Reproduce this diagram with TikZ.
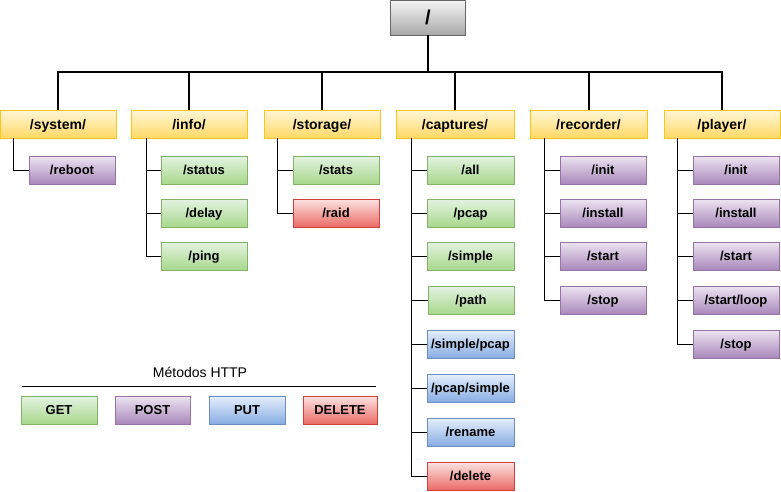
\documentclass[tikz,border=0pt]{standalone}
\usepackage{fontspec}
\setmainfont{Liberation Sans}
\usetikzlibrary{positioning}

\definecolor{rootTop}{HTML}{F5F5F5}
\definecolor{rootBot}{HTML}{A8A8A8}
\definecolor{rootLine}{HTML}{666666}
\definecolor{catTop}{HTML}{FFF6D8}
\definecolor{catBot}{HTML}{FFD966}
\definecolor{catLine}{HTML}{FFC61A}
\definecolor{getTop}{HTML}{E4F2E2}
\definecolor{getBot}{HTML}{A8D88C}
\definecolor{getLine}{HTML}{82B366}
\definecolor{postTop}{HTML}{EDE4F1}
\definecolor{postBot}{HTML}{A988BB}
\definecolor{postLine}{HTML}{9673A6}
\definecolor{putTop}{HTML}{E6EFFC}
\definecolor{putBot}{HTML}{87ACE2}
\definecolor{putLine}{HTML}{6C8EBF}
\definecolor{delTop}{HTML}{FBE3E2}
\definecolor{delBot}{HTML}{EA6B66}
\definecolor{delLine}{HTML}{D33F3A}

\tikzset{
  box/.style={draw, minimum height=28pt, inner sep=0pt, text depth=0pt,
    font=\bfseries\fontsize{13}{15}\selectfont},
  catbox/.style={box, minimum width=116pt, top color=catTop,
    bottom color=catBot, draw=catLine, font=\bfseries\fontsize{14}{16}\selectfont},
  getbox/.style={box, minimum width=86pt, top color=getTop,
    bottom color=getBot, draw=getLine},
  postbox/.style={box, minimum width=86pt, top color=postTop,
    bottom color=postBot, draw=postLine},
  putbox/.style={box, minimum width=86pt, top color=putTop,
    bottom color=putBot, draw=putLine},
  delbox/.style={box, minimum width=86pt, top color=delTop,
    bottom color=delBot, draw=delLine},
  bus/.style={line width=2pt},
  branch/.style={line width=1pt}
}

\begin{document}
\begin{tikzpicture}[x=1pt,y=-1pt]
  \useasboundingbox (0,0) rectangle (781,491);

  % root
  \node[draw=rootLine, top color=rootTop, bottom color=rootBot,
    minimum width=75pt, minimum height=35pt, inner sep=0pt, text depth=0pt,
    font=\bfseries\fontsize{20}{22}\selectfont] (root) at (428,17.5) {/};
  \coordinate (hub) at (428,72);

  % categories
  \node[catbox] (system) at (58,124) {/system/};
  \node[catbox] (info) at (189,124) {/info/};
  \node[catbox] (storage) at (322,124) {/storage/};
  \node[catbox, minimum width=118pt] (captures) at (455,124) {/captures/};
  \node[catbox, minimum width=117pt] (recorder) at (588.5,124) {/recorder/};
  \node[catbox] (player) at (722,124) {/player/};

  \draw[bus] (root.south) -- (hub);
  \foreach \c in {system,info,storage,captures,recorder,player}
    \draw[bus] (\c.north) |- (hub);

  % /system/
  \node[postbox] (reboot) at (72,170) {/reboot};
  \draw[branch] ([xshift=14pt]system.south west) |- (reboot.west);

  % /info/
  \node[getbox] (status) at (204,170) {/status};
  \node[getbox] (delay) at (204,213) {/delay};
  \node[getbox] (ping) at (204,256) {/ping};
  \foreach \n in {status,delay,ping}
    \draw[branch] ([xshift=16pt]info.south west) |- (\n.west);

  % /storage/
  \node[getbox] (stats) at (336,170) {/stats};
  \node[delbox] (raid) at (336,213) {/raid};
  \foreach \n in {stats,raid}
    \draw[branch] ([xshift=14pt]storage.south west) |- (\n.west);

  % /captures/
  \node[getbox, minimum width=87pt] (all) at (470.5,170) {/all};
  \node[getbox, minimum width=87pt] (pcap) at (470.5,213) {/pcap};
  \node[getbox, minimum width=87pt] (simple) at (470.5,256) {/simple};
  \node[getbox, minimum width=86pt] (path) at (471,300) {/path};
  \node[putbox, minimum width=87pt] (simplepcap) at (470.5,344) {/simple/pcap};
  \node[putbox, minimum width=87pt] (pcapsimple) at (470.5,388) {/pcap/simple};
  \node[putbox, minimum width=87pt] (rename) at (470.5,432) {/rename};
  \node[delbox, minimum width=87pt] (delete) at (470.5,476) {/delete};
  \foreach \n in {all,pcap,simple,path,simplepcap,pcapsimple,rename,delete}
    \draw[branch] ([xshift=16pt]captures.south west) |- (\n.west);

  % /recorder/
  \node[postbox] (rinit) at (603,170) {/init};
  \node[postbox] (rinstall) at (603,213) {/install};
  \node[postbox] (rstart) at (603,256) {/start};
  \node[postbox] (rstop) at (603,300) {/stop};
  \foreach \n in {rinit,rinstall,rstart,rstop}
    \draw[branch] ([xshift=15pt]recorder.south west) |- (\n.west);

  % /player/
  \node[postbox] (pinit) at (736,170) {/init};
  \node[postbox] (pinstall) at (736,213) {/install};
  \node[postbox] (pstart) at (736,256) {/start};
  \node[postbox] (ploop) at (736,300) {/start/loop};
  \node[postbox] (pstop) at (736,344) {/stop};
  \foreach \n in {pinit,pinstall,pstart,ploop,pstop}
    \draw[branch] ([xshift=14pt]player.south west) |- (\n.west);

  % legend
  \node[font=\fontsize{14}{16}\selectfont] (legtitle) at (200,372) {Métodos HTTP};
  \coordinate (legl) at (22,386);
  \coordinate (legr) at (376,386);
  \draw[line width=1pt] (legl) -- (legr);
  \node[getbox, minimum width=76pt] (legget) at (59,410) {GET};
  \node[postbox, minimum width=75pt] (legpost) at (152.5,410) {POST};
  \node[putbox, minimum width=76pt] (legput) at (247,410) {PUT};
  \node[delbox, minimum width=74pt] (legdel) at (340,410) {DELETE};
\end{tikzpicture}
\end{document}
